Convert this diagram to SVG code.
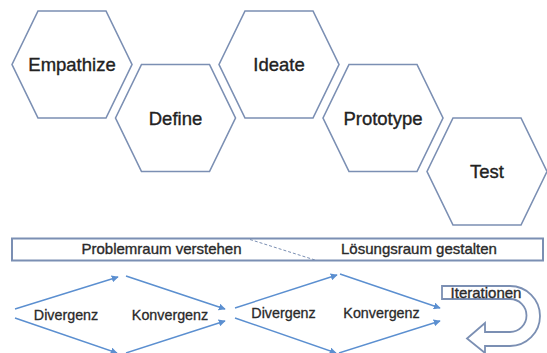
<svg xmlns="http://www.w3.org/2000/svg" width="547" height="353" viewBox="0 0 547 353">
<style>
.hex{fill:#ffffff;stroke:#7b8fb3;stroke-width:1.6}
.ht{font-family:"Liberation Sans",Arial,sans-serif;font-size:18.5px;fill:#222;stroke:#222;stroke-width:0.35;text-anchor:middle}
.bt{font-family:"Liberation Sans",Arial,sans-serif;font-size:15px;fill:#2a2a2a;stroke:#2a2a2a;stroke-width:0.35;text-anchor:middle}
.lt{font-family:"Liberation Sans",Arial,sans-serif;font-size:14.3px;fill:#2a2a2a;stroke:#2a2a2a;stroke-width:0.3;text-anchor:middle}
.con{stroke:#5b8fd0;stroke-width:1.4;fill:none;marker-end:url(#ah)}
</style>
<defs>
<marker id="ah" viewBox="0 0 10 10" refX="9" refY="5" markerWidth="7" markerHeight="7" orient="auto" markerUnits="userSpaceOnUse">
<path d="M0,0 L10,5 L0,10 Z" fill="#5b8fd0"/>
</marker>
</defs>
<rect width="547" height="353" fill="#ffffff"/>
<g id="empathize">
<polygon class="hex" points="12,64.5 38,11 106,11 132,64.5 106,118 38,118"/>
<text class="ht" x="72" y="71">Empathize</text>
</g>
<g id="define">
<polygon class="hex" points="115.5,118 141.5,64.5 209.5,64.5 235.5,118 209.5,171.5 141.5,171.5"/>
<text class="ht" x="175.5" y="124.5">Define</text>
</g>
<g id="ideate">
<polygon class="hex" points="219,64.5 245,11 313,11 339,64.5 313,118 245,118"/>
<text class="ht" x="279" y="71">Ideate</text>
</g>
<g id="prototype">
<polygon class="hex" points="323,118 349,64.5 417,64.5 443,118 417,171.5 349,171.5"/>
<text class="ht" x="383" y="124.5">Prototype</text>
</g>
<g id="test">
<polygon class="hex" points="427,171.5 453,118 521,118 547,171.5 521,225 453,225"/>
<text class="ht" x="487" y="178">Test</text>
</g>
<g id="bar">
<rect x="12" y="238.5" width="531" height="22" fill="#ffffff" stroke="#7b8fb3" stroke-width="2"/>
<line x1="250" y1="239.5" x2="315" y2="260" stroke="#7b8fb3" stroke-width="1" stroke-dasharray="3,2"/>
<text class="bt" x="161.5" y="254">Problemraum verstehen</text>
<text class="bt" x="419" y="254">Lösungsraum gestalten</text>
</g>
<g id="connectors">
<line class="con" x1="15" y1="309" x2="118" y2="277"/>
<line class="con" x1="126" y1="276" x2="225" y2="309"/>
<line class="con" x1="15" y1="318" x2="117" y2="353"/>
<line class="con" x1="126" y1="353" x2="225" y2="321"/>
<line class="con" x1="235" y1="308" x2="337" y2="275"/>
<line class="con" x1="340" y1="274" x2="440" y2="308"/>
<line class="con" x1="235" y1="318" x2="336" y2="353"/>
<line class="con" x1="339" y1="353" x2="440" y2="321"/>
</g>
<g id="divergenz1"><text class="lt" x="66" y="320">Divergenz</text></g>
<g id="konvergenz1"><text class="lt" x="170" y="320">Konvergenz</text></g>
<g id="divergenz2"><text class="lt" x="283.5" y="318">Divergenz</text></g>
<g id="konvergenz2"><text class="lt" x="381.5" y="318">Konvergenz</text></g>
<g id="iterationen">
<path d="M442,286 L510,286 A30,30 0 0 1 510,346 L485,346 L485,353 L467,338.5 L485,323 L485,332 L510,332 A16.5,16.5 0 0 0 510,299 L442,299 Z" fill="#ffffff" stroke="#7b8fb3" stroke-width="1.8" stroke-linejoin="miter"/>
<text x="486" y="297.5" font-family="Liberation Sans, Arial, sans-serif" font-size="15px" fill="#2a2a2a" stroke="#2a2a2a" stroke-width="0.35" text-anchor="middle">Iterationen</text>
</g>
</svg>
